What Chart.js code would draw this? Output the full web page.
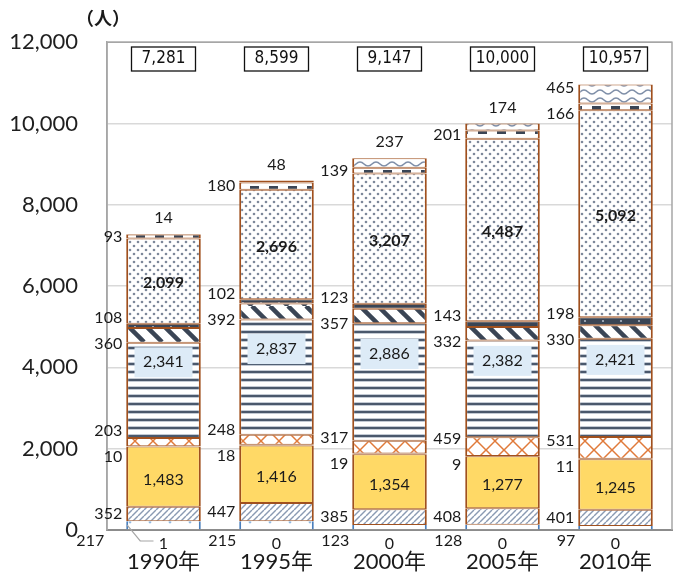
<!DOCTYPE html>
<html>
<head>
<meta charset="utf-8">
<title>Stacked bars 1990-2010</title>
<script src="https://cdn.jsdelivr.net/npm/chart.js"></script>
<style>
  body { margin: 0; background: #fff; }
</style>
</head>
<body>
<canvas id="chart" width="681" height="576"></canvas>

<script>
// categories and series (bottom to top)
const years = ['1990年', '1995年', '2000年', '2005年', '2010年'];
const s0  = [217, 215, 123, 128, 97];
const s1  = [1, 0, 0, 0, 0];
const s2  = [352, 447, 385, 408, 401];
const s3  = [1483, 1416, 1354, 1277, 1245];
const s4  = [10, 18, 19, 9, 11];
const s5  = [203, 248, 317, 459, 531];
const s6  = [2341, 2837, 2886, 2382, 2421];
const s7  = [360, 392, 357, 332, 330];
const s8  = [108, 102, 123, 143, 198];
const s9  = [2099, 2696, 3207, 4487, 5092];
const s10 = [93, 180, 139, 201, 166];
const s11 = [14, 48, 237, 174, 465];
const totals = [7281, 8599, 9147, 10000, 10957];
const yMax = 12000;
const yStep = 2000;

const canvas = document.getElementById('chart');
const ctx = canvas.getContext('2d');

function pattern(w, h, bg, draw) {
  const c = document.createElement('canvas');
  c.width = w; c.height = h;
  const g = c.getContext('2d');
  g.fillStyle = bg;
  g.fillRect(0, 0, w, h);
  draw(g);
  return ctx.createPattern(c, 'repeat');
}

const brown = '#A0501E';
const navy = '#3A4555';

const pLightDots = pattern(20, 12, '#fff', g => {
  g.fillStyle = '#8FB8E0';
  g.beginPath(); g.arc(10, 6, 1.4, 0, Math.PI * 2); g.fill();
});
const pHatch = pattern(6, 6, '#fff', g => {
  g.strokeStyle = '#8A9AB2'; g.lineWidth = 1.4;
  for (const o of [-6, 0, 6]) {
    g.beginPath(); g.moveTo(o, 6); g.lineTo(o + 6, 0); g.stroke();
  }
});
const pLattice = pattern(18, 18, '#fff', g => {
  g.strokeStyle = '#E07A3A'; g.lineWidth = 1.5;
  for (const o of [-18, 0, 18]) {
    g.beginPath(); g.moveTo(o, 18); g.lineTo(o + 18, 0); g.stroke();
    g.beginPath(); g.moveTo(o, 0); g.lineTo(o + 18, 18); g.stroke();
  }
});
const pStripes = pattern(4, 8, '#fff', g => {
  g.fillStyle = '#C3CAD4'; g.fillRect(0, 2, 4, 4);
  g.fillStyle = '#4A586C'; g.fillRect(0, 3, 4, 2);
});
const pThickDiag = pattern(18, 18, '#fff', g => {
  g.strokeStyle = navy; g.lineWidth = 4.5;
  for (const o of [-18, 0, 18]) {
    g.beginPath(); g.moveTo(o, 0); g.lineTo(o + 18, 18); g.stroke();
  }
});
const pDarkDots = pattern(18, 6, navy, g => {
  g.fillStyle = '#B0B9C7';
  g.beginPath(); g.arc(9, 3, 1.1, 0, Math.PI * 2); g.fill();
});
const pDots = pattern(8, 8, '#fff', g => {
  g.fillStyle = '#7D889A';
  g.beginPath(); g.arc(2, 2, 1.3, 0, Math.PI * 2); g.fill();
  g.beginPath(); g.arc(6, 6, 1.3, 0, Math.PI * 2); g.fill();
});
const pDashes = pattern(19, 8, '#fff', g => {
  g.fillStyle = navy; g.fillRect(3, 2, 9, 4);
});
const pWave = pattern(16, 8, '#fff', g => {
  g.strokeStyle = '#7F8FA8'; g.lineWidth = 1.5;
  g.beginPath();
  g.moveTo(0, 6);
  g.bezierCurveTo(4, 6, 4, 2, 8, 2);
  g.bezierCurveTo(12, 2, 12, 6, 16, 6);
  g.stroke();
});

const series = [s0, s1, s2, s3, s4, s5, s6, s7, s8, s9, s10, s11];
const fills = [pLightDots, '#fff', pHatch, '#FFD966', pLattice, pLattice,
               pStripes, pThickDiag, pDarkDots, pDots, pDashes, pWave];

const datasets = series.map((data, k) => ({
  data: data,
  backgroundColor: fills[k],
  borderColor: k === 0 ? '#4A7EBB' : brown,
  borderWidth: k === 0 ? { left: 2, right: 2, top: 0, bottom: 0 }
                       : { left: 2, right: 2, top: 1, bottom: 1 },
  borderSkipped: false,
  barPercentage: 0.66,
  categoryPercentage: 1
}));

const fmt = v => v.toLocaleString('en-US');
const numFont = '16px Lato, "Noto Sans", sans-serif';

const labels = {
  id: 'labels',
  afterDraw(chart) {
    const c = chart.ctx;
    const a = chart.chartArea;
    c.save();
    // plot area frame (left, top, right)
    c.strokeStyle = '#A6A6A6';
    c.lineWidth = 1.5;
    c.beginPath();
    c.moveTo(a.left, a.bottom); c.lineTo(a.left, a.top);
    c.lineTo(a.right, a.top); c.lineTo(a.right, a.bottom);
    c.stroke();

    // unit
    c.fillStyle = '#1a1a1a';
    c.font = 'bold 18px "Noto Sans CJK JP"';
    c.textAlign = 'left';
    c.textBaseline = 'middle';
    c.fillText('（人）', 76, 18);

    for (let i = 0; i < years.length; i++) {
      const els = datasets.map((d, k) => chart.getDatasetMeta(k).data[i]);
      const bx = els[0].x;
      const w = els[0].width;
      const left = bx - w / 2;
      const seg = k => ({ top: els[k].y, base: els[k].base,
                          mid: (els[k].y + els[k].base) / 2,
                          h: els[k].base - els[k].y });
      const val = k => series[k][i];

      c.font = numFont;
      c.fillStyle = '#1a1a1a';

      // labels to the left of the bar, spread apart when crowded
      const keys = [2, 4, 5, 7, 8, 10];
      const topAbove = seg(11).h <= 14;
      if (!topAbove) keys.push(11);
      const items = keys.map(k => ({ k, y: seg(k).mid }));
      items.sort((p, q) => p.y - q.y);
      const G = 26;
      for (let it = 0; it < 60; it++) {
        for (let j = 1; j < items.length; j++) {
          const d = items[j].y - items[j - 1].y;
          if (d < G) {
            const s = (G - d) / 2;
            items[j - 1].y -= s;
            items[j].y += s;
          }
        }
      }
      c.textAlign = 'right';
      c.textBaseline = 'middle';
      items.forEach(p => c.fillText(fmt(val(p.k)), left - 4, p.y));

      // top segment above the bar
      if (topAbove) {
        c.textAlign = 'center';
        c.fillText(fmt(val(11)), bx, seg(11).top - 16);
      }

      // bottom labels under the axis
      const axisY = a.bottom;
      const lead = val(1) > 0;
      c.textAlign = 'right';
      c.fillText(fmt(val(0)), left - (lead ? 22 : 3), axisY + 11);
      c.textAlign = 'center';
      c.fillText(fmt(val(1)), bx, axisY + 14);
      if (lead) {
        c.strokeStyle = '#A6A6A6';
        c.lineWidth = 1.2;
        c.beginPath();
        c.moveTo(left + 1, seg(0).mid);
        c.lineTo(left + 14, axisY + 11);
        c.lineTo(bx - 10, axisY + 11);
        c.stroke();
      }

      // inside labels
      c.textAlign = 'center';
      c.fillText(fmt(val(3)), bx, seg(3).mid + 3);

      const sy = seg(6).mid - 28;
      c.fillStyle = '#DDEBF7';
      c.fillRect(bx - 29, sy - 15, 58, 30);
      c.fillStyle = '#1a1a1a';
      c.fillText(fmt(val(6)), bx, sy);

      c.font = 'bold ' + numFont;
      c.fillText(fmt(val(9)), bx, seg(9).mid + 2);

      // total boxes
      c.fillStyle = '#fff';
      c.fillRect(bx - 32, 47, 64, 24);
      c.strokeStyle = '#111';
      c.lineWidth = 1.3;
      c.strokeRect(bx - 32, 47, 64, 24);
      c.fillStyle = '#111';
      c.font = '17px "Liberation Sans Narrow", "DejaVu Sans Condensed", sans-serif';
      c.fillText(fmt(totals[i]), bx, 59);
    }
    c.restore();
  }
};

new Chart(ctx, {
  type: 'bar',
  data: { labels: years, datasets: datasets },
  options: {
    responsive: false,
    animation: false,
    layout: { padding: { top: 37, right: 9, left: 0, bottom: 0 } },
    plugins: { legend: { display: false }, tooltip: { enabled: false } },
    scales: {
      x: {
        stacked: true,
        grid: { display: false, drawTicks: false },
        border: { color: '#8C8C8C', width: 2 },
        ticks: { padding: 19, color: '#1a1a1a',
                 font: { family: 'Lato, "Noto Sans CJK JP"', size: 22 } },
        afterFit(scale) { scale.height = 46; }
      },
      y: {
        stacked: true,
        min: 0,
        max: yMax,
        ticks: { stepSize: yStep, padding: 29, color: '#1f1f1f',
                 font: { family: 'Lato, "Noto Sans"', size: 22 },
                 callback: v => fmt(v) },
        grid: { color: '#D9D9D9', lineWidth: 1.5, drawTicks: false },
        border: { color: '#A6A6A6', width: 1.5 },
        afterFit(scale) { scale.width = 107; }
      }
    }
  },
  plugins: [labels]
});
</script>
</body>
</html>
